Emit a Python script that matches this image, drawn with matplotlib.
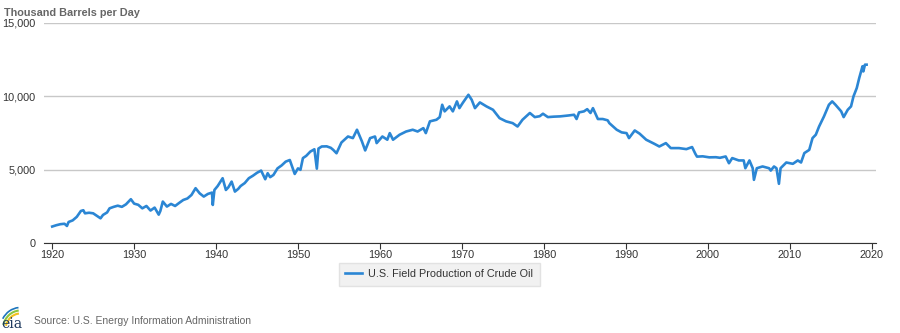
import matplotlib.pyplot as plt
from matplotlib.patches import Arc

# U.S. Feldproduktion Rohöl (Tausend Barrel pro Tag)
jahre = [1920.0, 1920.5, 1921.0, 1921.5, 1921.8, 1922.0, 1922.5, 1923.0, 1923.5, 1923.8,
         1924.0, 1924.5, 1925.0, 1925.5, 1925.9, 1926.2, 1926.7, 1927.0, 1927.5, 1928.0,
         1928.5, 1929.0, 1929.6, 1930.0, 1930.5, 1931.0, 1931.5, 1932.0, 1932.5, 1933.0,
         1933.2, 1933.5, 1934.0, 1934.5, 1935.0, 1935.5, 1936.0, 1936.5, 1937.0, 1937.5,
         1938.0, 1938.5, 1939.0, 1939.5, 1939.6, 1939.8, 1940.2, 1940.8, 1941.2, 1941.5,
         1941.9, 1942.3, 1942.7, 1943.0, 1943.5, 1944.0, 1944.5, 1945.0, 1945.5, 1946.0,
         1946.3, 1946.6, 1947.0, 1947.5, 1948.0, 1948.5, 1949.0, 1949.6, 1950.0, 1950.3,
         1950.6, 1951.0, 1951.5, 1952.0, 1952.3, 1952.5, 1952.9, 1953.5, 1954.0, 1954.3,
         1954.7, 1955.3, 1956.1, 1956.7, 1957.2, 1957.8, 1958.2, 1958.8, 1959.4, 1959.6,
         1960.3, 1960.9, 1961.2, 1961.6, 1962.4, 1963.2, 1964.0, 1964.6, 1965.3, 1965.6,
         1966.1, 1966.9, 1967.3, 1967.6, 1967.9, 1968.5, 1968.9, 1969.4, 1969.7, 1970.1,
         1970.8, 1971.2, 1971.6, 1972.2, 1973.0, 1973.8, 1974.6, 1975.4, 1976.2, 1976.8,
         1977.4, 1978.3, 1978.9, 1979.5, 1979.9, 1980.5, 1981.2, 1982.0, 1983.0, 1983.7,
         1984.0, 1984.3, 1984.9, 1985.3, 1985.7, 1986.0, 1986.6, 1987.2, 1987.8, 1988.0,
         1988.9, 1989.5, 1990.1, 1990.4, 1991.1, 1991.7, 1992.5, 1993.5, 1994.1, 1994.9,
         1995.5, 1996.5, 1997.4, 1998.1, 1998.5, 1998.7, 1999.4, 2000.2, 2001.0, 2001.5,
         2002.2, 2002.6, 2003.0, 2003.8, 2004.4, 2004.6, 2005.1, 2005.5, 2005.65, 2006.0,
         2006.7, 2007.5, 2007.7, 2008.1, 2008.4, 2008.7, 2008.9, 2009.6, 2010.4, 2011.0,
         2011.4, 2011.8, 2012.4, 2012.8, 2013.2, 2013.6, 2014.2, 2014.8, 2015.2, 2015.6,
         2016.3, 2016.6, 2017.1, 2017.5, 2017.8, 2018.2, 2018.5, 2018.9, 2019.0, 2019.2,
         2019.4]
werte = [1140, 1230, 1300, 1330, 1180, 1450, 1560, 1800, 2200, 2250,
         2040, 2080, 2040, 1850, 1700, 1930, 2100, 2380, 2480, 2560,
         2480, 2650, 3000, 2700, 2620, 2380, 2540, 2230, 2430, 1950,
         2200, 2840, 2500, 2680, 2540, 2750, 2950, 3050, 3290, 3750,
         3400, 3180, 3360, 3450, 2610, 3630, 3900, 4430, 3630, 3810,
         4200, 3520, 3700, 3900, 4100, 4430, 4600, 4800, 4950, 4360,
         4770, 4500, 4650, 5100, 5300, 5560, 5670, 4720, 5100, 5000,
         5800, 5950, 6240, 6400, 5080, 6450, 6590, 6600, 6500, 6360,
         6130, 6860, 7270, 7160, 7730, 6940, 6320, 7160, 7270, 6820,
         7270, 7050, 7500, 7050, 7390, 7610, 7730, 7610, 7840, 7500,
         8300, 8410, 8590, 9430, 8980, 9320, 8980, 9660, 9200, 9550,
         10110, 9770, 9200, 9590, 9320, 9090, 8520, 8300, 8180, 7950,
         8410, 8870, 8590, 8650, 8820, 8590, 8620, 8640, 8700, 8750,
         8460, 8910, 8980, 9130, 8870, 9200, 8460, 8460, 8370, 8180,
         7730, 7550, 7500, 7160, 7680, 7460, 7050, 6770, 6590, 6820,
         6480, 6480, 6410, 6550, 6090, 5900, 5920, 5850, 5860, 5820,
         5910, 5450, 5800, 5640, 5640, 5110, 5640, 5110, 4320, 5110,
         5230, 5110, 4950, 5230, 5110, 4050, 5110, 5500, 5410, 5640,
         5500, 6140, 6360, 7160, 7390, 7950, 8640, 9430, 9660, 9430,
         8980, 8590, 9090, 9320, 10000, 10570, 11250, 12050, 11700, 12160,
         12160]

y_ticks = [0, 5000, 10000, 15000]
y_labels = ["0", "5,000", "10,000", "15,000"]
x_ticks = list(range(1920, 2021, 10))

plt.rcParams['font.family'] = ['Liberation Sans', 'DejaVu Sans']

fig = plt.figure(figsize=(9, 3.33), dpi=100)
ax = fig.add_axes([0.0489, 0.2694, 0.924, 0.6617])

ax.plot(jahre, werte, color='#2b86d4', lw=1.9, label='U.S. Field Production of Crude Oil')

ax.set_xlim(1919.0, 2020.5)
ax.set_ylim(0, 15000)
ax.set_yticks(y_ticks)
ax.set_yticklabels(y_labels)
ax.set_xticks(x_ticks)
ax.grid(axis='y', color='#c8c8c8', lw=1)
ax.set_axisbelow(True)
for s in ['top', 'right', 'left']:
    ax.spines[s].set_visible(False)
ax.spines['bottom'].set_color('#333333')
ax.tick_params(axis='y', length=0, pad=6, labelsize=7.8, labelcolor='#333333')
ax.tick_params(axis='x', length=4, color='#333333', pad=1, labelsize=7.8, labelcolor='#333333')

fig.text(0.005, 0.975, "Thousand Barrels per Day", fontsize=7.8, fontweight='bold',
         color='#666666', va='top', ha='left')

leg = fig.legend(loc='center', bbox_to_anchor=(0.488, 0.177), fontsize=7.8,
                 frameon=True, fancybox=False, handlelength=1.5, borderpad=0.6,
                 handletextpad=0.6)
leg.get_frame().set_facecolor('#eeeeee')
leg.get_frame().set_edgecolor('#dddddd')
for t in leg.get_texts():
    t.set_color('#333333')

fig.text(0.038, 0.035, "Source: U.S. Energy Information Administration", fontsize=7.5,
         color='#666666', va='center', ha='left')

# kleines eia-Logo
lax = fig.add_axes([0.0, 0.0, 0.03, 0.09])
lax.set_xlim(0, 1)
lax.set_ylim(0, 1)
lax.axis('off')
lax.add_patch(Arc((0.75, 0.1), 1.3, 1.3, theta1=95, theta2=165, color='#8cc63f', lw=1.5))
lax.add_patch(Arc((0.75, 0.1), 1.1, 1.1, theta1=95, theta2=165, color='#f2c01e', lw=1.5))
lax.add_patch(Arc((0.75, 0.1), 1.5, 1.5, theta1=95, theta2=150, color='#1d75bc', lw=1.2))
lax.text(0.05, 0.3, "eia", family='DejaVu Serif', fontsize=10, color='#1f3a5f',
         va='center', ha='left')

fig.savefig('out.png', dpi=100)
